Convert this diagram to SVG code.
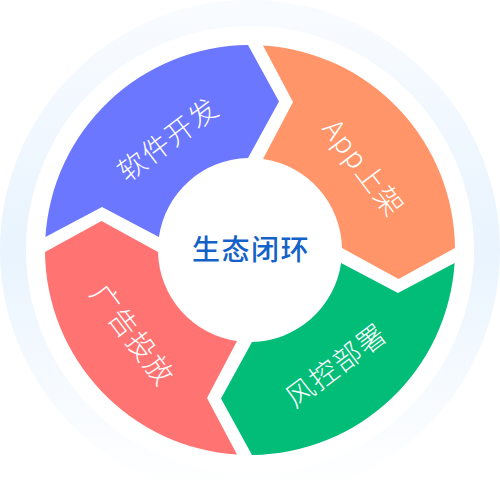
<svg xmlns="http://www.w3.org/2000/svg" width="500" height="500" viewBox="0 0 500 500">
<defs>
<linearGradient id="ringGrad" x1="0" y1="0" x2="0" y2="1">
<stop offset="0" stop-color="#f8fbff"/>
<stop offset="0.5" stop-color="#e9f4fe"/>
<stop offset="1" stop-color="#ffffff"/>
</linearGradient>
<path id="seg" d="M 45.4 237 A 205 205 0 0 1 248 45.01 L 279 101.5 L 248 158.02 A 92 92 0 0 0 158.9 237 L 102 207 Z"/>
</defs>
<style>
.lbl{font-family:"Noto Sans CJK SC","Noto Sans",sans-serif;font-size:28px;font-weight:300;fill:#ffffff;letter-spacing:1.5px;text-anchor:middle;dominant-baseline:central}
.ctr{font-family:"Noto Sans CJK SC","Noto Sans",sans-serif;font-size:28px;font-weight:500;fill:#1461c8;letter-spacing:1.5px;text-anchor:middle;dominant-baseline:central}
</style>
<rect width="500" height="500" fill="#ffffff"/>
<circle cx="250" cy="250" r="237" fill="none" stroke="url(#ringGrad)" stroke-width="26"/>
<g id="connectors"></g>
<g id="node-dev">
<use href="#seg" fill="#6b77fe"/>
<text class="lbl" x="167" y="138" transform="rotate(-37 167 138)">软件开发</text>
</g>
<g id="node-app">
<use href="#seg" fill="#ff9569" transform="rotate(90 250 250)"/>
<text class="lbl" x="365" y="167" transform="rotate(53 365 167)">App上架</text>
</g>
<g id="node-risk">
<use href="#seg" fill="#02bd77" transform="rotate(180 250 250)"/>
<text class="lbl" x="335" y="364" transform="rotate(-37 335 364)">风控部署</text>
</g>
<g id="node-ads">
<use href="#seg" fill="#ff7473" transform="rotate(270 250 250)"/>
<text class="lbl" x="134" y="334" transform="rotate(53 134 334)">广告投放</text>
</g>
<g id="node-center">
<circle cx="250" cy="250" r="88" fill="#ffffff"/>
<text class="ctr" x="251" y="248">生态闭环</text>
</g>
</svg>
